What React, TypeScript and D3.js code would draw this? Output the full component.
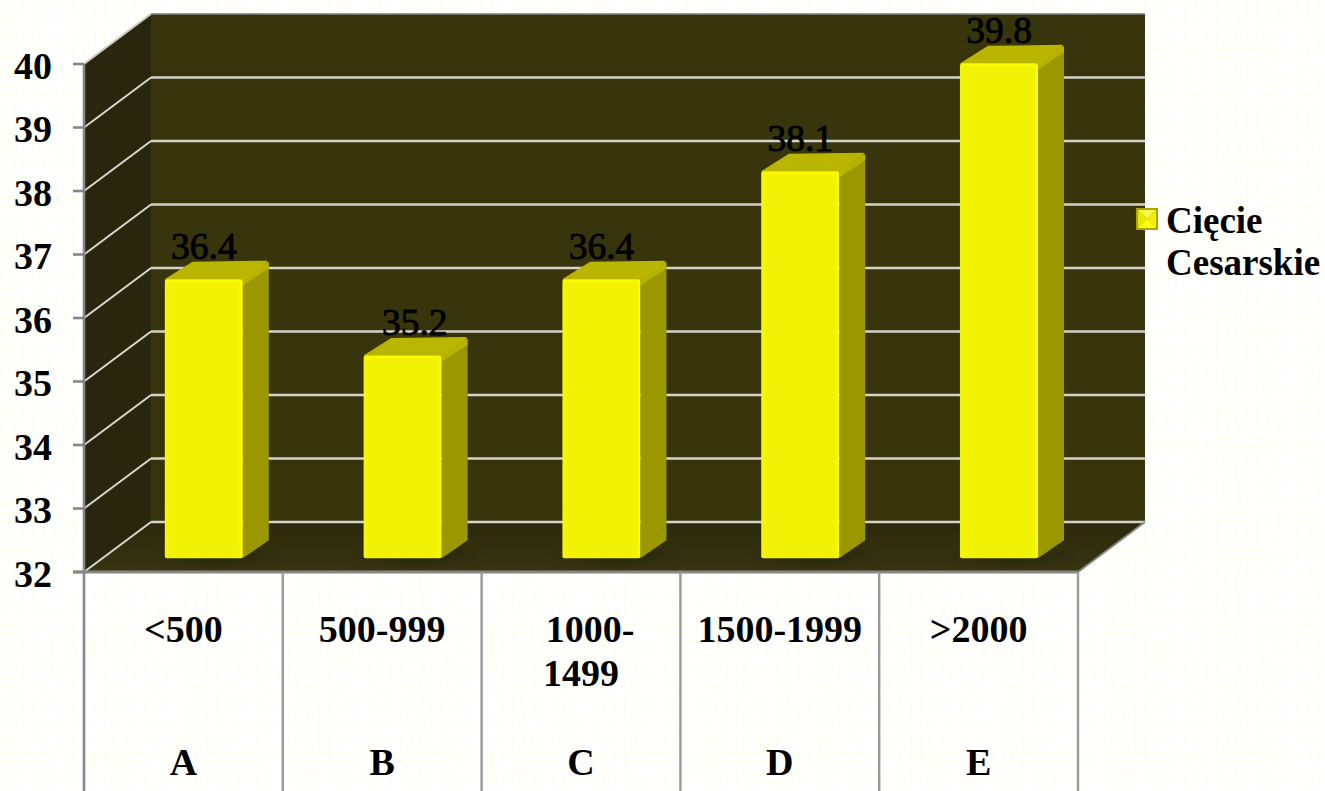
import React from "react";
import * as d3 from "d3";

const ranges = ["<500", "500-999", "1000-1499", "1500-1999", ">2000"];
const groups = ["A", "B", "C", "D", "E"];
const values = [36.4, 35.2, 36.4, 38.1, 39.8];
const ticks = [32, 33, 34, 35, 36, 37, 38, 39, 40];
const seriesName = ["Cięcie", "Cesarskie"];

const W = 1325, H = 791;
const x0 = 84, x1 = 1078, yBase = 572, yTop = 64;
const depthX = 67, depthY = 50;
const barFrac = 0.275;
const barDX = 26, barDY = 18;
const barW = 78;
const FONT = "'Liberation Serif','Times New Roman',serif";

const y = d3.scaleLinear().domain([32, 40]).range([yBase, yTop]);
const xBand = d3.scaleBand<string>().domain(groups).range([x0, x1]);
const poly = (pts: [number, number][]) => d3.line()(pts) + "Z";

export default function App() {
  const offX = depthX * barFrac + 2;
  const offY = -depthY * barFrac;
  return (
    <svg width={W} height={H} viewBox={`0 0 ${W} ${H}`}
      style={{ position: "absolute", left: 0, top: 0, display: "block" }} fontFamily={FONT}>
      <defs>
        <pattern id="dots" width="10.2" height="10.2" patternUnits="userSpaceOnUse">
          <rect x="2" y="2" width="1.4" height="1.4" fill="#ffffa8" />
          <rect x="2" y="7.1" width="1.2" height="1.2" fill="#ffffb4" />
          <rect x="7.1" y="7.1" width="1" height="1" fill="#ffffc8" />
        </pattern>
        <linearGradient id="floorShade" x1="0" x2="0" y1="0" y2="1">
          <stop offset="0" stopColor="#2c290c" />
          <stop offset="1" stopColor="#383410" />
        </linearGradient>
        <linearGradient id="barFront" x1="0" x2="1" y1="0" y2="0">
          <stop offset="0" stopColor="#f8f800" />
          <stop offset="0.06" stopColor="#f2f205" />
          <stop offset="0.95" stopColor="#f2f205" />
          <stop offset="1" stopColor="#ffff00" />
        </linearGradient>
        <radialGradient id="shadow">
          <stop offset="0" stopColor="#1e1c08" stopOpacity="0.55" />
          <stop offset="1" stopColor="#1e1c08" stopOpacity="0" />
        </radialGradient>
      </defs>
      <rect width={W} height={H} fill="#fff" />
      <rect width={W} height={H} fill="url(#dots)" />

      {/* back wall */}
      <rect x={x0 + depthX} y={yTop - depthY} width={x1 - x0} height={yBase - yTop} fill="#38340c" />
      {/* side wall */}
      <path d={poly([[x0, yTop], [x0 + depthX, yTop - depthY], [x0 + depthX, yBase - depthY], [x0, yBase]])} fill="#29260d" />
      {/* floor */}
      <path d={poly([[x0, yBase], [x0 + depthX, yBase - depthY], [x1 + depthX, yBase - depthY], [x1, yBase]])} fill="url(#floorShade)" />

      {/* gridlines */}
      {ticks.map((t) => {
        const yy = y(t);
        const top = t === 40;
        return (
          <g key={t}>
            <path d={d3.line()([[x0, yy], [x0 + depthX, yy - depthY]])!} fill="none" stroke={top ? "#c8c8c0" : "#d8d8d0"} strokeWidth={2} />
            <line x1={x0 + depthX} x2={x1 + depthX} y1={yy - depthY} y2={yy - depthY}
              stroke={top ? "#7f7f7f" : "#d4d4cc"} strokeWidth={top ? 1.6 : 2.4} />
          </g>
        );
      })}
      {/* right floor edge */}
      <line x1={x1} y1={yBase} x2={x1 + depthX} y2={yBase - depthY} stroke="#868686" strokeWidth={2} />

      {/* bars */}
      {groups.map((g, i) => {
        const bx = xBand(g)! + (xBand.bandwidth() - barW) / 2 + offX;
        const base = y(32) + offY;
        const top = y(values[i]) + offY + 0.6;
        return (
          <g key={g}>
            <ellipse cx={bx + barW / 2 + 14} cy={base - 2} rx={barW * 0.9} ry={14} fill="url(#shadow)" />
            <path d={poly([[bx + barW, top], [bx + barW + barDX, top - barDY], [bx + barW + barDX, base - barDY], [bx + barW, base]])} fill="#9b9700" />
            <path d={poly([[bx + 1, top], [bx + barDX + 2, top - barDY + 1], [bx + barW + barDX - 2, top - barDY], [bx + barW, top]])} fill="#b9b500" stroke="#b9b500" strokeWidth={1.5} strokeLinejoin="round" />
            <path d={poly([[bx + barW, top], [bx + barW + barDX - 2, top - barDY + 0.5], [bx + barW + barDX, top - barDY + 2], [bx + barW + barDX, top - barDY + 7], [bx + barW, top + 6]])} fill="#c9c500" opacity={0.6} />
            <rect x={bx} y={top} width={barW} height={base - top} rx={2} fill="url(#barFront)" />
            <rect x={bx + 1} y={top} width={barW - 2} height={3} rx={1.5} fill="#f9f900" />
          </g>
        );
      })}

      {/* data labels */}
      {groups.map((g, i) => (
        <text key={g} x={xBand(g)! + xBand.bandwidth() / 2 + 20.5 + (g === "B" ? 12 : 0)} y={y(values[i]) + offY - 20}
          textAnchor="middle" fontSize={37.5} fill="#000" stroke="#000" strokeWidth={0.9}>
          {values[i].toFixed(1)}
        </text>
      ))}

      {/* axis */}
      <line x1={x0} x2={x0} y1={yTop} y2={H} stroke="#868686" strokeWidth={2.6} />
      <line x1={x0 - 11} x2={x1} y1={yBase} y2={yBase} stroke="#868686" strokeWidth={3} />
      {ticks.map((t) => (
        <g key={t}>
          <line x1={x0 - 11} x2={x0} y1={y(t)} y2={y(t)} stroke="#868686" strokeWidth={2.6} />
          <text x={52} y={y(t) + 14.5} textAnchor="end" fontSize={38} fontWeight={700} fill="#000">{t}</text>
        </g>
      ))}

      {/* category table */}
      {groups.map((g, i) => {
        const bx = xBand(g)!;
        const cx = bx + xBand.bandwidth() / 2;
        const label = ranges[i];
        return (
          <g key={g} fontSize={38} fontWeight={700} fill="#000" textAnchor="middle">
            <line x1={bx + xBand.bandwidth()} x2={bx + xBand.bandwidth()} y1={yBase} y2={H} stroke="#9a9a9a" strokeWidth={2.4} />
            {label === "1000-1499" ? (
              <>
                <text x={cx + 9} y={642}>1000-</text>
                <text x={cx} y={686}>1499</text>
              </>
            ) : (
              <text x={cx} y={642}>{label}</text>
            )}
            <text x={cx} y={775}>{g}</text>
          </g>
        );
      })}

      {/* legend */}
      <g>
        <rect x={1136} y={208} width={22} height={22} fill="#aaa600" />
        <path d={poly([[1138, 210], [1156, 210], [1147, 219]])} fill="#f6f64a" />
        <path d={poly([[1138, 228], [1156, 228], [1147, 219]])} fill="#ffff10" />
        <path d={poly([[1138, 210], [1138, 228], [1147, 219]])} fill="#e8e800" />
        <path d={poly([[1156, 210], [1156, 228], [1147, 219]])} fill="#f0f000" />
        <text x={1166} y={233} fontSize={37} fontWeight={700}>{seriesName[0]}</text>
        <text x={1166} y={275} fontSize={37} fontWeight={700}>{seriesName[1]}</text>
      </g>
    </svg>
  );
}
